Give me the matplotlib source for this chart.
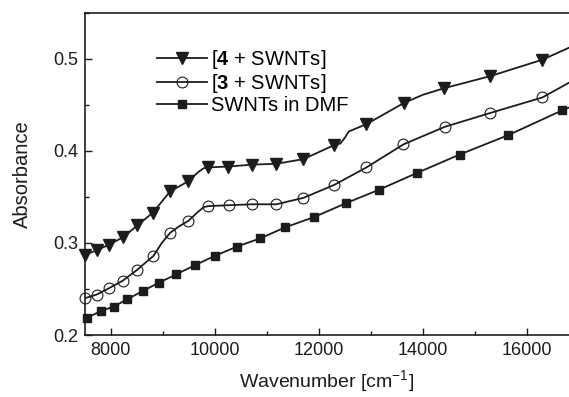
import matplotlib
matplotlib.use("Agg")
import matplotlib.pyplot as plt
from matplotlib.ticker import MultipleLocator

plt.rcParams['font.family'] = ['Liberation Sans', 'DejaVu Sans']
plt.rcParams['mathtext.fontset'] = 'custom'
plt.rcParams['mathtext.rm'] = 'Liberation Sans'
plt.rcParams['mathtext.bf'] = 'Liberation Sans:bold'

# ---- data ----
# [4 + SWNTs] marker positions
x4_mk = [7500, 7730, 7960, 8230, 8510, 8810, 9140, 9490, 9860, 10260, 10710,
         11180, 11700, 12280, 12910, 13630, 14400, 15280, 16290]
y4_mk = [0.287, 0.292, 0.298, 0.306, 0.319, 0.333, 0.356, 0.367, 0.382, 0.383,
         0.385, 0.386, 0.391, 0.406, 0.429, 0.452, 0.468, 0.481, 0.499]
# [4 + SWNTs] curve
x4_ln = [7500, 7730, 7960, 8230, 8510, 8810, 9140, 9300, 9490, 9680, 9780, 9860,
         10260, 10710, 11180, 11700, 12280, 12410, 12505, 12570, 12910, 13630,
         14000, 14400, 15280, 16290, 16800]
y4_ln = [0.287, 0.292, 0.298, 0.306, 0.319, 0.333, 0.356, 0.361, 0.367, 0.377,
         0.381, 0.382, 0.383, 0.385, 0.386, 0.391, 0.406, 0.408, 0.415, 0.421,
         0.429, 0.452, 0.461, 0.468, 0.481, 0.499, 0.512]

# [3 + SWNTs] marker positions
x3_mk = [7500, 7730, 7970, 8230, 8510, 8820, 9140, 9490, 9870, 10270, 10720,
         11180, 11700, 12290, 12910, 13620, 14410, 15280, 16290]
y3_mk = [0.240, 0.244, 0.251, 0.259, 0.271, 0.286, 0.311, 0.324, 0.340, 0.341,
         0.342, 0.342, 0.349, 0.363, 0.382, 0.407, 0.426, 0.441, 0.458]
# [3 + SWNTs] curve
x3_ln = [7500, 7730, 7970, 8230, 8510, 8820, 8980, 9140, 9310, 9490, 9680, 9790,
         9870, 10270, 10720, 11180, 11700, 12290, 12910, 13620, 14410, 15280,
         16290, 16800]
y3_ln = [0.240, 0.244, 0.251, 0.259, 0.271, 0.286, 0.300, 0.311, 0.318, 0.324,
         0.334, 0.339, 0.340, 0.341, 0.342, 0.342, 0.349, 0.363, 0.382, 0.407,
         0.426, 0.441, 0.458, 0.474]

# SWNTs in DMF marker positions
xd_mk = [7550, 7810, 8060, 8320, 8620, 8930, 9260, 9620, 10000, 10420, 10870,
         11350, 11900, 12510, 13160, 13880, 14700, 15630, 16670]
yd_mk = [0.219, 0.226, 0.231, 0.239, 0.248, 0.257, 0.266, 0.276, 0.286, 0.296,
         0.305, 0.317, 0.328, 0.343, 0.358, 0.376, 0.396, 0.417, 0.444]
# SWNTs in DMF curve
xd_ln = [7500] + xd_mk + [16800]
yd_ln = [0.218] + yd_mk + [0.447]

labels = [r'[$\mathbf{4}$ + SWNTs]', r'[$\mathbf{3}$ + SWNTs]', 'SWNTs in DMF']

# ---- figure ----
fig = plt.figure(figsize=(5.69, 3.97), dpi=100)
ax = fig.add_axes([0.1489, 0.156, 0.8511, 0.812])

c = '#1c1c1c'
lw = 1.3

ax.plot(x4_ln, y4_ln, color=c, lw=lw, zorder=2)
ax.plot(x4_mk, y4_mk, ls='none', marker='v', ms=8.3, color=c, zorder=3, clip_on=False)
ax.plot(x3_ln, y3_ln, color=c, lw=lw, zorder=2)
ax.plot(x3_mk, y3_mk, ls='none', marker='o', ms=7.8, mfc='none', mec=c, mew=0.8,
        zorder=3, clip_on=False)
ax.plot(xd_ln, yd_ln, color=c, lw=lw, zorder=2)
ax.plot(xd_mk, yd_mk, ls='none', marker='s', ms=6.4, color=c, zorder=3, clip_on=False)

# legend proxies
h1, = ax.plot([], [], color=c, lw=lw, marker='v', ms=8.3)
h2, = ax.plot([], [], color=c, lw=lw, marker='o', ms=7.8, mfc='none', mec=c, mew=0.8)
h3, = ax.plot([], [], color=c, lw=lw, marker='s', ms=6.4)
ax.legend([h1, h2, h3], labels, loc='upper left', bbox_to_anchor=(0.149, 0.89),
          frameon=False, fontsize=14.5, handlelength=2.5, handletextpad=0.2,
          labelspacing=0.04, borderpad=0, borderaxespad=0)

ax.set_xlim(7500, 16800)
ax.set_ylim(0.2, 0.55)
ax.xaxis.set_major_locator(MultipleLocator(2000))
ax.xaxis.set_minor_locator(MultipleLocator(1000))
ax.yaxis.set_major_locator(MultipleLocator(0.1))
ax.yaxis.set_minor_locator(MultipleLocator(0.05))
ax.set_yticks([0.2, 0.3, 0.4, 0.5])
ax.set_yticklabels(['0.2', '0.3', '0.4', '0.5'])
ax.tick_params(which='both', direction='in', colors=c, labelsize=13, width=1.0)
ax.tick_params(which='major', length=5, pad=5)
ax.tick_params(which='minor', length=2.8)
ax.spines['right'].set_visible(False)
for s in ['left', 'bottom', 'top']:
    ax.spines[s].set_linewidth(1.2)
    ax.spines[s].set_color(c)

ax.set_xlabel(r'Wavenumber [cm$^{\mathregular{-1}}$]', fontsize=14, color=c, labelpad=7)
ax.set_ylabel('Absorbance', fontsize=14.5, color=c, labelpad=15)

fig.savefig('out.png', dpi=100)
